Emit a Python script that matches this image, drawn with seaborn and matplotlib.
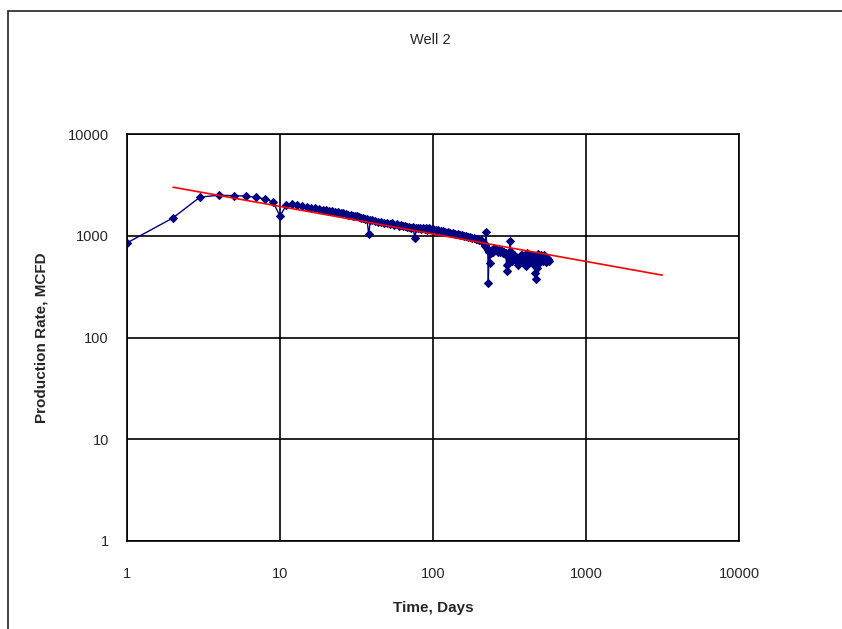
import numpy as np
import pandas as pd
import matplotlib
matplotlib.use('Agg')
import matplotlib.pyplot as plt
from matplotlib.patches import Rectangle
import seaborn as sns

sns.set_style("white")
plt.rcParams['font.family'] = ['Liberation Sans', 'DejaVu Sans']

# production data (days, MCFD)
days = [1, 2, 3, 4, 5, 6, 7, 8, 9, 10, 11, 12,
        13, 14, 15, 16, 17, 18, 19, 20, 21, 22, 23, 24, 25, 26, 27, 28, 29, 30,
        31, 32, 33, 34, 35, 36, 37, 38, 39, 40,
        42, 44, 46, 48, 50, 52, 54, 56, 58, 60, 62, 64, 66, 68, 70, 72, 74, 76,
        78, 80, 82, 84, 86, 88, 90, 92, 94, 96, 98, 100,
        104, 108, 112, 116, 120, 125, 130, 135, 140, 145, 150, 155, 160, 165,
        170, 175, 180, 185, 190, 195, 200, 205, 210, 215, 218, 220, 222, 225,
        228, 230, 232, 235, 238, 242, 246, 250, 255, 260, 265, 270, 275, 280,
        285, 290, 295, 300, 303, 306, 310, 313, 316, 320, 322, 325, 328, 330,
        333, 336, 340, 345, 350, 355, 360, 365, 370, 375, 380, 385, 390, 395,
        400, 405, 410, 415, 420, 425, 430, 435, 440, 445, 450, 455, 460, 465,
        470, 475, 480, 485, 490, 495, 500, 505, 510, 515, 520, 525, 530, 535,
        540, 545, 550, 555, 560, 565, 570]
rates = [850, 1500, 2400, 2500, 2480, 2450, 2380, 2300, 2150, 1560, 2000, 2060,
         2010, 1960, 1930, 1880, 1870, 1820, 1810, 1780, 1770, 1750, 1720, 1700,
         1680, 1660, 1640, 1610, 1600, 1580,
         1560, 1550, 1520, 1500, 1490, 1460, 1450, 1040, 1420, 1430,
         1400, 1370, 1380, 1340, 1330, 1300, 1320, 1280, 1290, 1260, 1270, 1240,
         1250, 1220, 1230, 1200, 1215, 950,
         1200, 1180, 1190, 1160, 1200, 1170, 1180, 1150, 1190, 1160, 1140, 1170,
         1130, 1150, 1110, 1120, 1090, 1100, 1060, 1070, 1040, 1050, 1010, 1020,
         990, 1000,
         970, 975, 950, 955, 930, 935, 910, 900, 880, 850, 820, 800, 1090, 760,
         720, 345, 700, 540, 680, 720, 700, 760, 720, 740, 700, 720, 690, 730,
         680, 700, 660, 680, 450, 520, 640, 600, 700, 880, 700, 620, 580, 560,
         610, 600, 650, 590, 620, 560, 520, 570, 600, 640, 650, 600, 560, 590,
         620, 500, 680, 640, 600, 570, 550, 600, 580, 650, 620, 540, 520, 430,
         380, 480, 600, 660, 540, 580, 610, 650, 620, 590, 560, 620, 600, 640,
         580, 560, 550, 600, 570, 590, 560]

# power-law trend line end points
trend_days = [2, 3150]
trend_rates = [3000, 410]

tick_vals = [1, 10, 100, 1000, 10000]
tick_labels = ['1', '10', '100', '1000', '10000']

df = pd.DataFrame({'days': days, 'rate': rates})
trend = pd.DataFrame({'days': trend_days, 'rate': trend_rates})

fig = plt.figure(figsize=(8.42, 6.29), dpi=100)
ax = fig.add_axes([127 / 842, 1 - 541 / 629, (739 - 127) / 842, (541 - 134) / 629])

sns.lineplot(data=df, x='days', y='rate', ax=ax, color='#000080', lw=1,
             marker='D', markersize=4.5, markeredgecolor='#000080',
             sort=False, estimator=None)
sns.lineplot(data=trend, x='days', y='rate', ax=ax, color='#ff0000', lw=1.2,
             sort=False, estimator=None)

ax.set_xscale('log')
ax.set_yscale('log')
ax.set_xlim(1, 10000)
ax.set_ylim(1, 10000)
ax.set_xticks(tick_vals)
ax.set_xticklabels(tick_labels)
ax.set_yticks(tick_vals)
ax.set_yticklabels(tick_labels)
ax.xaxis.set_minor_locator(matplotlib.ticker.NullLocator())
ax.yaxis.set_minor_locator(matplotlib.ticker.NullLocator())
ax.tick_params(axis='both', direction='out', length=5, width=1, labelsize=10.5,
               color='black')
ax.tick_params(axis='x', pad=14)
ax.tick_params(axis='y', pad=8)
ax.grid(True, color='black', lw=1.2)
for s in ax.spines.values():
    s.set_color('black')
    s.set_linewidth(1.2)

ax.set_xlabel('Time, Days', fontsize=11, fontweight='bold', labelpad=14)
ax.set_ylabel('Production Rate, MCFD', fontsize=11, fontweight='bold', labelpad=14)
fig.text(430 / 842, 1 - 40 / 629, 'Well 2', ha='center', va='center', fontsize=10.5)

# outer chart border
fig.patches.append(Rectangle((7.5 / 842, -0.1), 1.2, 1 - 10.5 / 629 + 0.1,
                             transform=fig.transFigure, fill=False,
                             edgecolor='#222222', lw=1.2))

fig.savefig('out.png', dpi=100)
